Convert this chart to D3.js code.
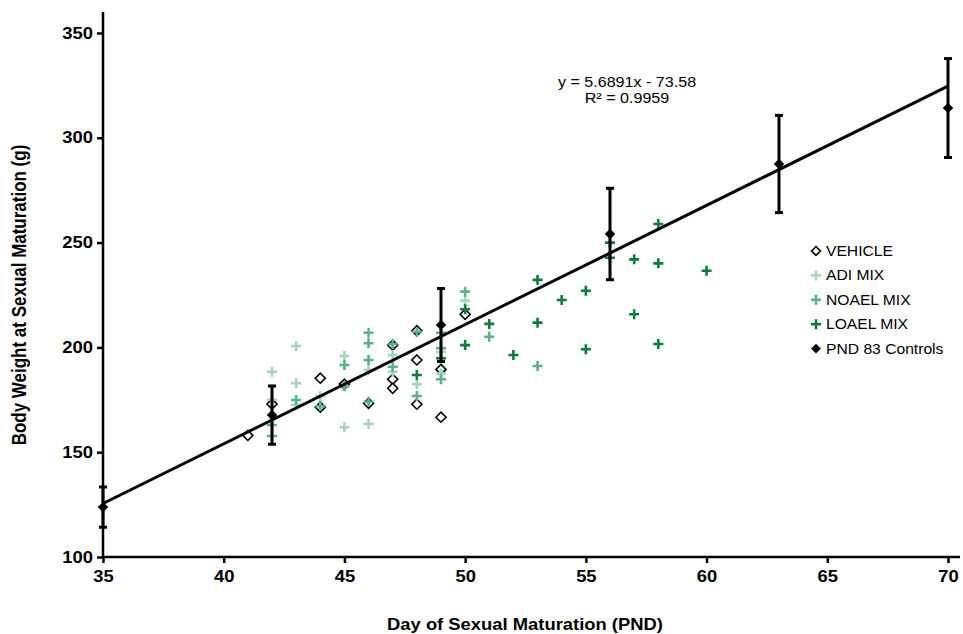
<!DOCTYPE html>
<html>
<head>
<meta charset="utf-8">
<script src="https://cdn.jsdelivr.net/npm/d3@7"></script>
<style>
  html, body { margin: 0; padding: 0; background: #fff; }
  svg { display: block; font-family: "Liberation Sans", Arial, sans-serif; }
</style>
</head>
<body>
<svg id="chart" width="963" height="634"></svg>
<script>
// Body weight (g) against day of sexual maturation (PND), one array pair per group
const vehicleDays    = [41, 42, 44, 44, 45, 46, 47, 47, 47, 48, 48, 48, 49, 49, 50];
const vehicleWeights = [158, 173, 185.3, 171.5, 182.5, 173.3, 201.1, 184.8, 180.5, 208, 194, 172.9, 189.5, 166.7, 215.8];

const adiDays    = [42, 42, 43, 43, 43, 44, 45, 45, 46, 46, 47, 47, 48, 49, 49, 50];
const adiWeights = [188.4, 175, 200.7, 182.9, 172.5, 176.8, 195.9, 161.9, 189.2, 163.5, 196.4, 188.4, 182.5, 197.8, 187.6, 222.3];

const noaelDays    = [42, 42, 43, 44, 45, 45, 46, 46, 46, 46, 47, 47, 48, 48, 49, 49, 49, 50, 51, 53];
const noaelWeights = [163, 157.7, 174.9, 172, 191.6, 181.5, 207, 202, 194, 174.1, 201.6, 190.8, 207.5, 176.8, 207, 199.6, 184.8, 226.6, 205.1, 191.1];

const loaelDays    = [48, 49, 50, 50, 51, 52, 53, 53, 54, 55, 55, 56, 56, 57, 57, 58, 58, 58, 60];
const loaelWeights = [186.8, 194.8, 218.2, 201.1, 211.2, 196.4, 232.2, 211.8, 222.6, 227, 199.1, 250, 242.8, 242, 215.8, 258.9, 240.1, 201.6, 236.6];

const controlDays   = [35, 42, 49, 56, 63, 70];
const controlMeans  = [123.8, 167.7, 210.7, 254.1, 287.5, 314.2];
const controlErrors = [9.6, 13.9, 17.4, 21.8, 23.2, 23.6];

// Linear trend fitted to the PND 83 controls
const trendSlope = 5.6891;
const trendIntercept = -73.58;
const trendR2 = 0.9959;

const xTicks = [35, 40, 45, 50, 55, 60, 65, 70];
const yTicks = [100, 150, 200, 250, 300, 350];

const seriesNames = ["VEHICLE", "ADI MIX", "NOAEL MIX", "LOAEL MIX", "PND 83 Controls"];

const colors = {
  adi: "#a3d6b9",
  noael: "#58b487",
  loael: "#0c7d3a"
};

// The lettering is set slightly wide
const WIDE = 1.15;

const svg = d3.select("#chart");

const x = d3.scaleLinear().domain([35, 70]).range([103, 948]);
const y = d3.scaleLinear().domain([100, 350]).range([557, 33]);

// Axes
const xAxis = d3.axisBottom(x).tickValues(xTicks).tickSize(6).tickPadding(8).tickFormat(d3.format("d"));
const yAxis = d3.axisLeft(y).tickValues(yTicks).tickSize(6).tickPadding(7).tickFormat(d3.format("d"));

const gx = svg.append("g").attr("transform", "translate(0,557)").call(xAxis);
const gy = svg.append("g").attr("transform", "translate(103,0)").call(yAxis);

[gx, gy].forEach(g => {
  g.select(".domain").remove();
  g.selectAll(".tick line").attr("stroke", "#000").attr("stroke-width", 2.5);
  g.selectAll(".tick text")
    .attr("fill", "#000")
    .style("font-size", "16px")
    .style("font-weight", "bold")
    .style("font-family", "\"Liberation Sans\", Arial, sans-serif");
});
gx.selectAll(".tick text").attr("transform", `scale(${WIDE},1)`);
gy.selectAll(".tick text").attr("x", -10 / WIDE).attr("transform", `scale(${WIDE},1)`);

// Axis lines extend a little past the last ticks
svg.append("line")
  .attr("x1", x(35)).attr("x2", x(70.5))
  .attr("y1", y(100)).attr("y2", y(100))
  .attr("stroke", "#000").attr("stroke-width", 2.5);
svg.append("line")
  .attr("x1", x(35)).attr("x2", x(35))
  .attr("y1", y(100) + 1).attr("y2", y(360))
  .attr("stroke", "#000").attr("stroke-width", 2.5);

// Axis titles
svg.append("text")
  .attr("transform", `translate(525,630) scale(${WIDE},1)`)
  .attr("text-anchor", "middle")
  .style("font-size", "16px").style("font-weight", "bold")
  .text("Day of Sexual Maturation (PND)");

svg.append("text")
  .attr("transform", `translate(26,295) rotate(-90) scale(1,${WIDE})`)
  .attr("text-anchor", "middle")
  .style("font-size", "17px").style("font-weight", "bold")
  .text("Body Weight at Sexual Maturation (g)");

// Marker helpers
const diamond = d3.symbol().type(d3.symbolDiamond2);
const plusPath = s => `M${-s},0H${s}M0,${-s}V${s}`;

function drawPluses(days, weights, color) {
  svg.append("g").selectAll("path")
    .data(days.map((d, i) => [d, weights[i]]))
    .join("path")
    .attr("d", plusPath(5))
    .attr("transform", d => `translate(${x(d[0])},${y(d[1])})`)
    .attr("stroke", color)
    .attr("stroke-width", 2.6)
    .attr("fill", "none");
}

// VEHICLE: open diamonds
svg.append("g").selectAll("path")
  .data(vehicleDays.map((d, i) => [d, vehicleWeights[i]]))
  .join("path")
  .attr("d", diamond.size(64)())
  .attr("transform", d => `translate(${x(d[0])},${y(d[1])})`)
  .attr("fill", "#fff")
  .attr("stroke", "#000")
  .attr("stroke-width", 1.6);

drawPluses(adiDays, adiWeights, colors.adi);
drawPluses(noaelDays, noaelWeights, colors.noael);
drawPluses(loaelDays, loaelWeights, colors.loael);

// PND 83 controls with error bars
const ctrl = controlDays.map((d, i) => ({ d, m: controlMeans[i], e: controlErrors[i] }));
const eb = svg.append("g");
eb.selectAll("line.v").data(ctrl).join("line")
  .attr("x1", c => x(c.d)).attr("x2", c => x(c.d))
  .attr("y1", c => y(c.m - c.e)).attr("y2", c => y(c.m + c.e))
  .attr("stroke", "#000").attr("stroke-width", 3);
eb.selectAll("line.top").data(ctrl).join("line")
  .attr("x1", c => x(c.d) - 4).attr("x2", c => x(c.d) + 4)
  .attr("y1", c => y(c.m + c.e)).attr("y2", c => y(c.m + c.e))
  .attr("stroke", "#000").attr("stroke-width", 3);
eb.selectAll("line.bot").data(ctrl).join("line")
  .attr("x1", c => x(c.d) - 4).attr("x2", c => x(c.d) + 4)
  .attr("y1", c => y(c.m - c.e)).attr("y2", c => y(c.m - c.e))
  .attr("stroke", "#000").attr("stroke-width", 3);
svg.append("g").selectAll("path")
  .data(ctrl).join("path")
  .attr("d", diamond.size(70)())
  .attr("transform", c => `translate(${x(c.d)},${y(c.m)})`)
  .attr("fill", "#000");

// Trend line
const trend = d3.line().x(d => x(d)).y(d => y(trendSlope * d + trendIntercept));
svg.append("path")
  .datum([35, 70])
  .attr("d", trend)
  .attr("stroke", "#000")
  .attr("stroke-width", 3)
  .attr("fill", "none");

// Trend equation
svg.append("text")
  .attr("transform", `translate(627,87) scale(${WIDE},1)`)
  .attr("text-anchor", "middle")
  .style("font-size", "14px")
  .text(`y = ${trendSlope}x - ${Math.abs(trendIntercept)}`);
svg.append("text")
  .attr("transform", `translate(627,103) scale(${WIDE},1)`)
  .attr("text-anchor", "middle")
  .style("font-size", "14px")
  .text(`R² = ${trendR2}`);

// Legend
const legend = svg.append("g").attr("transform", "translate(816,251)");
const rowH = 24.4;
seriesNames.forEach((name, i) => {
  const g = legend.append("g").attr("transform", `translate(0,${i * rowH})`);
  if (i === 0) {
    g.append("path").attr("d", diamond.size(50)())
      .attr("fill", "#fff").attr("stroke", "#000").attr("stroke-width", 1.6);
  } else if (i === 4) {
    g.append("path").attr("d", diamond.size(60)()).attr("fill", "#000");
  } else {
    const c = [colors.adi, colors.noael, colors.loael][i - 1];
    g.append("path").attr("d", plusPath(5)).attr("stroke", c).attr("stroke-width", 2.6).attr("fill", "none");
  }
  g.append("text")
    .attr("transform", `translate(10,5) scale(1.08,1)`)
    .style("font-size", "14.5px")
    .text(name);
});
</script>
</body>
</html>
